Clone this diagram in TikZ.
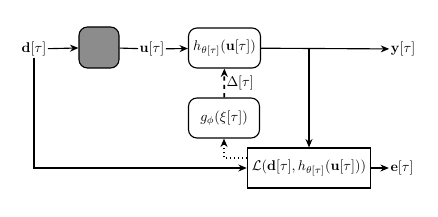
\documentclass[tikz,border=0pt]{standalone}
\usepackage{amsmath,amssymb}
\usepackage{xcolor}
\usetikzlibrary{arrows.meta,positioning}
\definecolor{blockgray}{HTML}{8C8C8C}

\begin{document}
\begin{tikzpicture}[
    x=0.025cm, y=-0.025cm,
    >={Stealth[length=6pt,width=5pt]},
    block/.style={draw, line width=0.8pt, rounded corners=6pt, minimum width=1.775cm, minimum height=1cm, align=center},
    lossbox/.style={draw, line width=0.8pt, minimum width=3cm, minimum height=1cm},
    sig/.style={inner sep=1pt},
    arrow/.style={->, line width=0.8pt},
]
\useasboundingbox (0,0) rectangle (438,216);

% Blocks
\node[block, fill=blockgray, minimum width=1cm, minimum height=1.025cm] (enc) at (99,47.5) {};
\node[block] (h) at (224.5,48) {$h_{\theta[\tau]}(\mathbf{u}[\tau])$};
\node[block] (g) at (224,118) {$g_\phi(\xi[\tau])$};
\node[lossbox] (loss) at (309,168) {$\mathcal{L}(\mathbf{d}[\tau], h_{\theta[\tau]}(\mathbf{u}[\tau]))$};

% Signals
\node[sig] (d) at (34,49) {$\mathbf{d}[\tau]$};
\node[sig] (u) at (152,49) {$\mathbf{u}[\tau]$};
\node[sig] (y) at (403,49) {$\mathbf{y}[\tau]$};
\node[sig] (e) at (402,168) {$\mathbf{e}[\tau]$};

% Arrows
\draw[arrow] (d) -- (enc);
\draw[line width=0.8pt] (enc) -- (u);
\draw[arrow] (u) -- (h);
\draw[arrow] (h) -- (y);
\draw[arrow] (h.east -| loss.north) -- (loss);
\draw[arrow] (d) |- (loss);
\draw[arrow, dashed, line width=1.2pt] (g) -- node[right, inner sep=1pt] {$\Delta[\tau]$} (h);
\draw[arrow, dotted, line width=1.2pt] ([yshift=7pt]loss.west) -| (g);
\draw[arrow] (loss) -- (e);
\end{tikzpicture}
\end{document}
